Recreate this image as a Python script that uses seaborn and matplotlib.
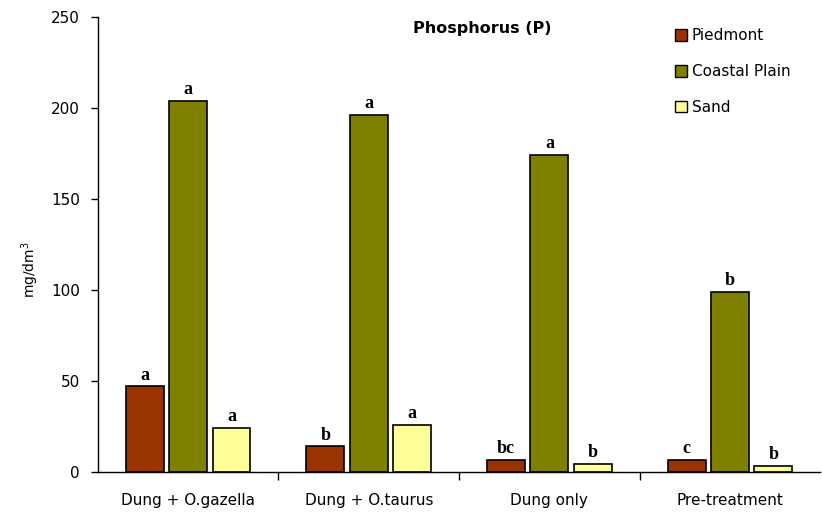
import matplotlib
matplotlib.use("Agg")
import matplotlib.pyplot as plt
import seaborn as sns
import pandas as pd
import numpy as np
from matplotlib.patches import Patch

categories = ["Dung + O.gazella", "Dung + O.taurus", "Dung only", "Pre-treatment"]
series = ["Piedmont", "Coastal Plain", "Sand"]
piedmont = [47, 14, 6.5, 6.5]
coastal = [204, 196, 174, 99]
sand = [24, 26, 4.5, 3.5]
letters_piedmont = ["a", "b", "bc", "c"]
letters_coastal = ["a", "a", "a", "b"]
letters_sand = ["a", "a", "b", "b"]
colors = ["#993300", "#808000", "#FFFF99"]

rows = []
for s, vals in zip(series, [piedmont, coastal, sand]):
    for c, v in zip(categories, vals):
        rows.append({"Treatment": c, "Soil": s, "P": v})
df = pd.DataFrame(rows)

sns.set_theme(style="white")
plt.rcParams["font.family"] = ["DejaVu Sans"]
plt.rcParams["text.color"] = "black"
plt.rcParams["axes.labelcolor"] = "black"
plt.rcParams["xtick.color"] = "black"
plt.rcParams["ytick.color"] = "black"

fig = plt.figure(figsize=(8.22, 5.13), dpi=100)
ax = fig.add_axes([0.119, 0.080, 0.879, 0.887])

sns.barplot(data=df, x="Treatment", y="P", hue="Soil", order=categories,
            hue_order=series, palette=colors, width=0.72, gap=0.125,
            edgecolor="black", linewidth=1.2, saturation=1, ax=ax, legend=False)

ax.set_xlim(-0.5, 3.5)
ax.set_ylim(0, 250)
ax.set_yticks([0, 50, 100, 150, 200, 250])
ax.set_xlabel("")
ax.set_ylabel("mg/dm$^3$", fontsize=10, color="black")
ax.yaxis.set_label_coords(-0.078, 0.444)

for sp in ["top", "right"]:
    ax.spines[sp].set_visible(False)
for sp in ["left", "bottom"]:
    ax.spines[sp].set_color("black")
    ax.spines[sp].set_linewidth(1.0)

ax.tick_params(axis="y", which="major", direction="out", length=5, width=1,
               color="black", labelcolor="black", labelsize=11, left=True, pad=8)
ax.tick_params(axis="x", which="major", length=0, labelsize=11, pad=15,
               labelcolor="black")
ax.set_xticks([0.5, 1.5, 2.5], minor=True)
ax.tick_params(axis="x", which="minor", direction="out", length=6, width=1,
               color="black", bottom=True)

# letters above bars
all_letters = letters_piedmont + letters_coastal + letters_sand
for patch, lab in zip(ax.patches, all_letters):
    x = patch.get_x() + patch.get_width() / 2
    h = patch.get_height()
    ax.annotate(lab, (x, h), xytext=(0, 2), textcoords="offset points",
                ha="center", va="bottom", fontsize=13, fontweight="bold",
                color="black", family=["Liberation Serif", "DejaVu Serif"])

ax.text(0.532, 0.99, "Phosphorus (P)", transform=ax.transAxes, ha="center",
        va="top", fontsize=11.5, fontweight="bold", color="black")

handles = [Patch(facecolor=c, edgecolor="black", linewidth=1.0) for c in colors]
leg = ax.legend(handles, series, loc="upper left", bbox_to_anchor=(0.78, 1.005),
                frameon=False, fontsize=11, handlelength=0.8, handleheight=0.8,
                handletextpad=0.3, labelspacing=1.35)
for t in leg.get_texts():
    t.set_color("black")

fig.savefig("out.png", dpi=100, facecolor="white")
